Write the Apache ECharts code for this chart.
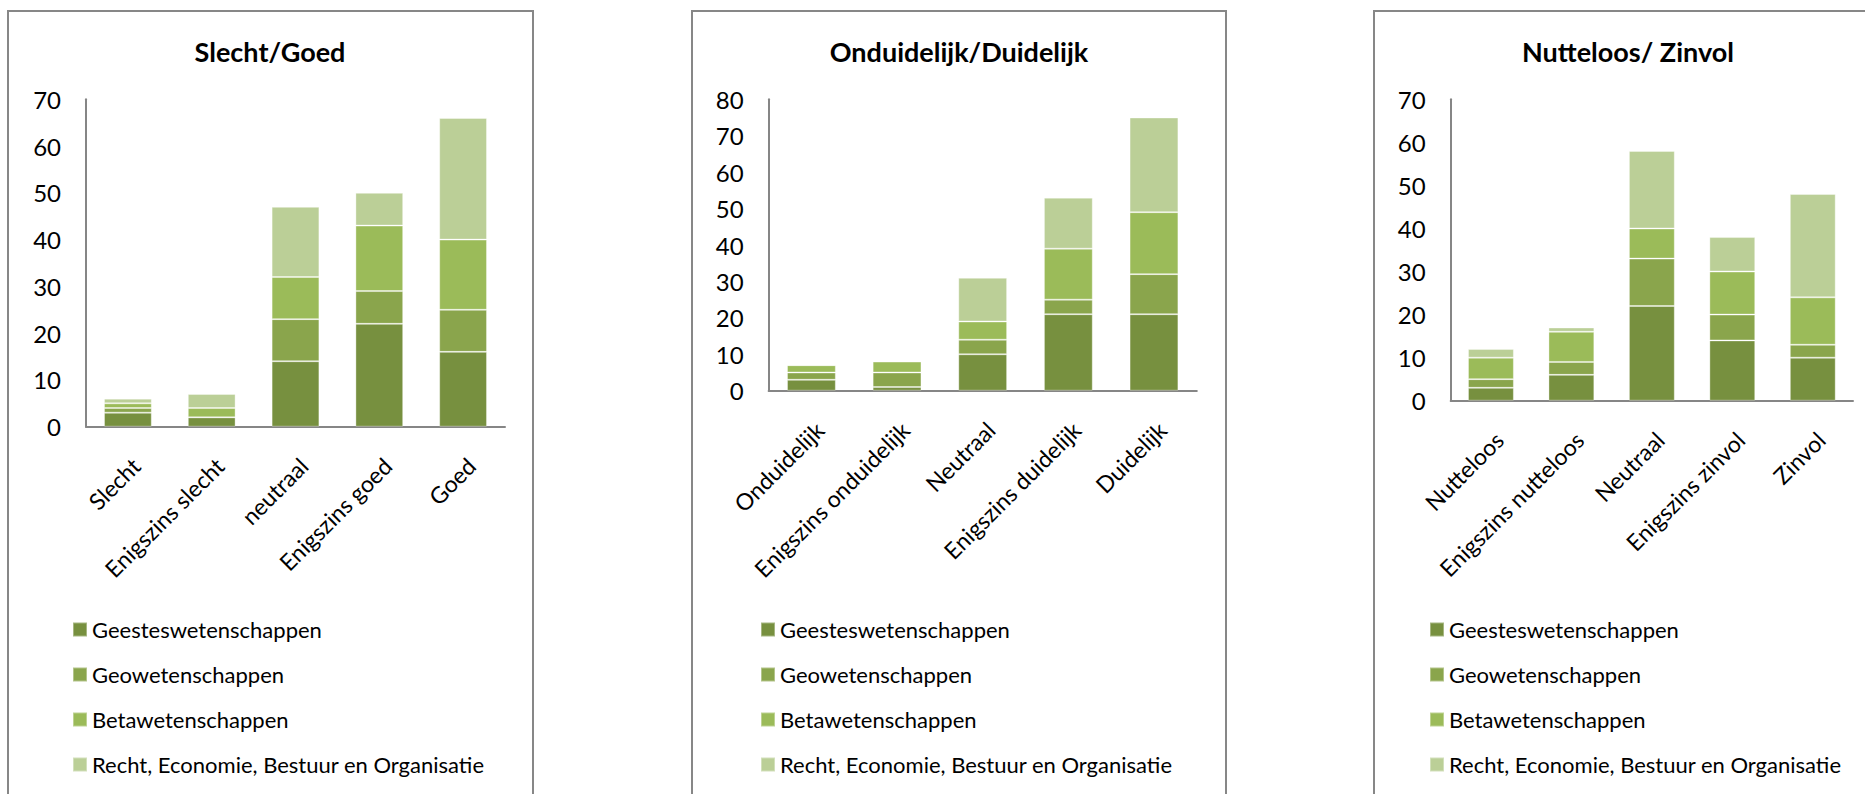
<!DOCTYPE html>
<html><head><meta charset="utf-8">
<script src="https://cdn.jsdelivr.net/npm/echarts@6/dist/echarts.min.js"></script>
<style>html,body{margin:0;padding:0;background:#fff}#c{width:1865px;height:794px}</style>
</head><body><div id="c"></div>
<script>
// ---- data ----
const seriesNames = ['Geesteswetenschappen', 'Geowetenschappen', 'Betawetenschappen', 'Recht, Economie, Bestuur en Organisatie'];
const colors = ['#77903F', '#8AA54C', '#9BBB59', '#BBCF97'];

const titles = ['Slecht/Goed', 'Onduidelijk/Duidelijk', 'Nutteloos/ Zinvol'];

const cats1 = ['Slecht', 'Enigszins slecht', 'neutraal', 'Enigszins goed', 'Goed'];
const cats2 = ['Onduidelijk', 'Enigszins onduidelijk', 'Neutraal', 'Enigszins duidelijk', 'Duidelijk'];
const cats3 = ['Nutteloos', 'Enigszins nutteloos', 'Neutraal', 'Enigszins zinvol', 'Zinvol'];

const geestes1 = [3, 2, 14, 22, 16];
const geo1     = [1, 0, 9, 7, 9];
const beta1    = [1, 2, 9, 14, 15];
const recht1   = [1, 3, 15, 7, 26];

const geestes2 = [3, 1, 10, 21, 21];
const geo2     = [2, 4, 4, 4, 11];
const beta2    = [2, 3, 5, 14, 17];
const recht2   = [0, 0, 12, 14, 26];

const geestes3 = [3, 6, 22, 14, 10];
const geo3     = [2, 3, 11, 6, 3];
const beta3    = [5, 7, 7, 10, 11];
const recht3   = [2, 1, 18, 8, 24];

const yMax = [70, 80, 70];
const yInterval = 10;

// ---- layout ----
const FONT = 'Lato, "Open Sans", sans-serif';
const panels = [
  { x: 8, w: 525, grid: { left: 86, top: 99.3, width: 419, height: 327.4 }, titleX: 270, legendX: 67 },
  { x: 692, w: 534, grid: { left: 768.6, top: 99.3, width: 428.2, height: 291.4 }, titleX: 959, legendX: 755 },
  { x: 1374, w: 508, grid: { left: 1450.7, top: 99.3, width: 402.3, height: 301.4 }, titleX: 1628, legendX: 1424 }
];
const cats = [cats1, cats2, cats3];
const vals = [
  [geestes1, geo1, beta1, recht1],
  [geestes2, geo2, beta2, recht2],
  [geestes3, geo3, beta3, recht3]
];

const grid = [], xAxis = [], yAxis = [], series = [], legend = [], graphic = [];
panels.forEach((p, i) => {
  grid.push(Object.assign({ containLabel: false }, p.grid));
  xAxis.push({
    type: 'category', gridIndex: i, data: cats[i],
    axisLine: { lineStyle: { color: '#868686', width: 2 } },
    axisTick: { show: false },
    axisLabel: { interval: 0, rotate: 45, align: 'right', verticalAlign: 'top', margin: 27,
                 color: '#000', fontSize: 23, fontFamily: FONT }
  });
  yAxis.push({
    type: 'value', gridIndex: i, min: 0, max: yMax[i], interval: yInterval,
    axisLine: { show: true, lineStyle: { color: '#868686', width: 2 } },
    axisTick: { show: false },
    splitLine: { show: false },
    axisLabel: { color: '#000', fontSize: 24, fontFamily: FONT, margin: 25 }
  });
  seriesNames.forEach((n, k) => {
    series.push({
      name: n, type: 'bar', stack: 'g' + i, xAxisIndex: i, yAxisIndex: i,
      data: vals[i][k], barCategoryGap: '43%',
      itemStyle: { color: colors[k], borderColor: 'rgba(255,255,255,0.35)', borderWidth: 1 },
      emphasis: { disabled: true }
    });
  });
  legend.push({
    orient: 'vertical', left: p.legendX, top: 613, data: seriesNames,
    icon: 'rect', itemWidth: 14, itemHeight: 14, itemGap: 22, selectedMode: false,
    textStyle: { color: '#000', fontSize: 22, fontFamily: FONT, lineHeight: 23 }
  });
  graphic.push({
    type: 'rect', shape: { x: p.x, y: 11, width: p.w, height: 820 },
    style: { fill: 'none', stroke: '#878787', lineWidth: 2 }, silent: true, z: -10
  });
  graphic.push({
    type: 'text', x: p.titleX, y: 51,
    style: { text: titles[i], fill: '#000', font: 'bold 27px ' + FONT, textAlign: 'center', textVerticalAlign: 'middle' },
    silent: true
  });
});

const chart = echarts.init(document.getElementById('c'), null, { renderer: 'svg' });
chart.setOption({
  animation: false,
  color: colors,
  grid, xAxis, yAxis, series, legend, graphic
});
</script>
</body></html>
